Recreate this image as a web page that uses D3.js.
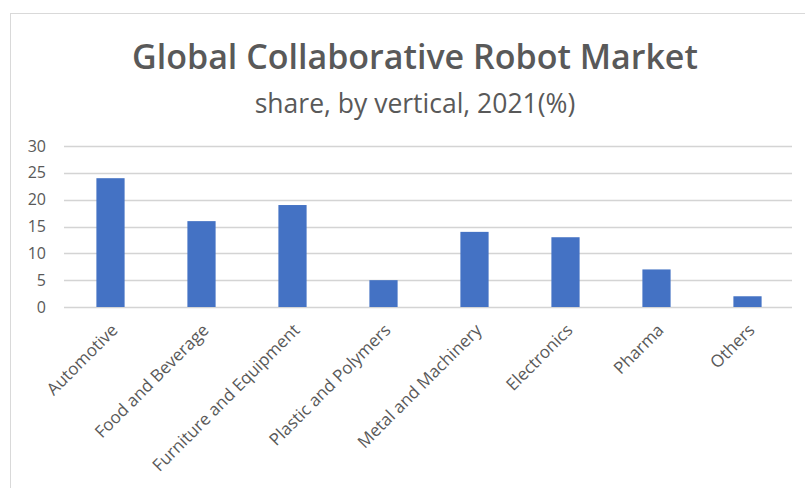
<!DOCTYPE html>
<html lang="en">
<head>
    <meta charset="utf-8">
    <title>Global Collaborative Robot Market</title>
    <script src="https://d3js.org/d3.v7.min.js"></script>
    <style>
        body { margin: 0; background: #fff; }
        svg { display: block; }
    </style>
</head>
<body>
<svg width="805" height="488"></svg>
<script>
    var categories = ["Automotive", "Food and Beverage", "Furniture and Equipment", "Plastic and Polymers",
        "Metal and Machinery", "Electronics", "Pharma", "Others"];
    var shares = [24, 16, 19, 5, 14, 13, 7, 2];
    var yTicks = [0, 5, 10, 15, 20, 25, 30];

    var svg = d3.select("svg");
    var font = "'Open Sans', sans-serif";

    // chart frame
    svg.append("rect")
        .attr("x", 10.5).attr("y", 13.5)
        .attr("width", 900).attr("height", 600)
        .attr("fill", "none")
        .attr("stroke", "#d9d9d9");

    svg.append("text")
        .attr("x", 415).attr("y", 69)
        .attr("text-anchor", "middle")
        .attr("font-family", font)
        .attr("font-weight", 600)
        .attr("font-size", 34)
        .attr("fill", "#595959")
        .text("Global Collaborative Robot Market");

    svg.append("text")
        .attr("x", 415).attr("y", 113)
        .attr("text-anchor", "middle")
        .attr("font-family", font)
        .attr("font-size", 26.5)
        .attr("fill", "#595959")
        .text("share, by vertical, 2021(%)");

    var x = d3.scaleBand()
        .domain(categories)
        .range([65, 793])
        .paddingInner(0.69)
        .paddingOuter(0.345);

    var y = d3.scaleLinear()
        .domain([0, 30])
        .range([307, 146]);

    // gridlines
    svg.append("g")
        .selectAll("line")
        .data(yTicks)
        .enter()
        .append("line")
        .attr("x1", 64).attr("x2", 792)
        .attr("y1", function(d){ return Math.round(y(d)) + 0.5; })
        .attr("y2", function(d){ return Math.round(y(d)) + 0.5; })
        .attr("stroke", "#d4d4d4")
        .attr("stroke-width", 1.4);

    // y axis labels
    var yAxis = d3.axisLeft(y).tickValues(yTicks).tickSize(0).tickPadding(0);
    var gy = svg.append("g")
        .attr("transform", "translate(46,0)")
        .call(yAxis);
    gy.select(".domain").remove();
    gy.selectAll("text")
        .attr("font-family", font)
        .attr("font-size", 16)
        .attr("fill", "#595959");

    // bars
    svg.append("g")
        .selectAll("rect")
        .data(shares)
        .enter()
        .append("rect")
        .attr("x", function(d, i){ return x(categories[i]); })
        .attr("y", function(d){ return y(d); })
        .attr("width", x.bandwidth())
        .attr("height", function(d){ return y(0) - y(d); })
        .attr("fill", "#4472c4");

    // x axis labels
    var xAxis = d3.axisBottom(x).tickSize(0).tickPadding(0);
    var gx = svg.append("g")
        .attr("transform", "translate(0,307)")
        .call(xAxis);
    gx.select(".domain").remove();
    gx.selectAll("text")
        .attr("font-family", font)
        .attr("font-size", 17)
        .attr("fill", "#595959")
        .attr("text-anchor", "end")
        .attr("dy", "0.35em")
        .attr("transform", "translate(4,20) rotate(-45)");
</script>
</body>
</html>
